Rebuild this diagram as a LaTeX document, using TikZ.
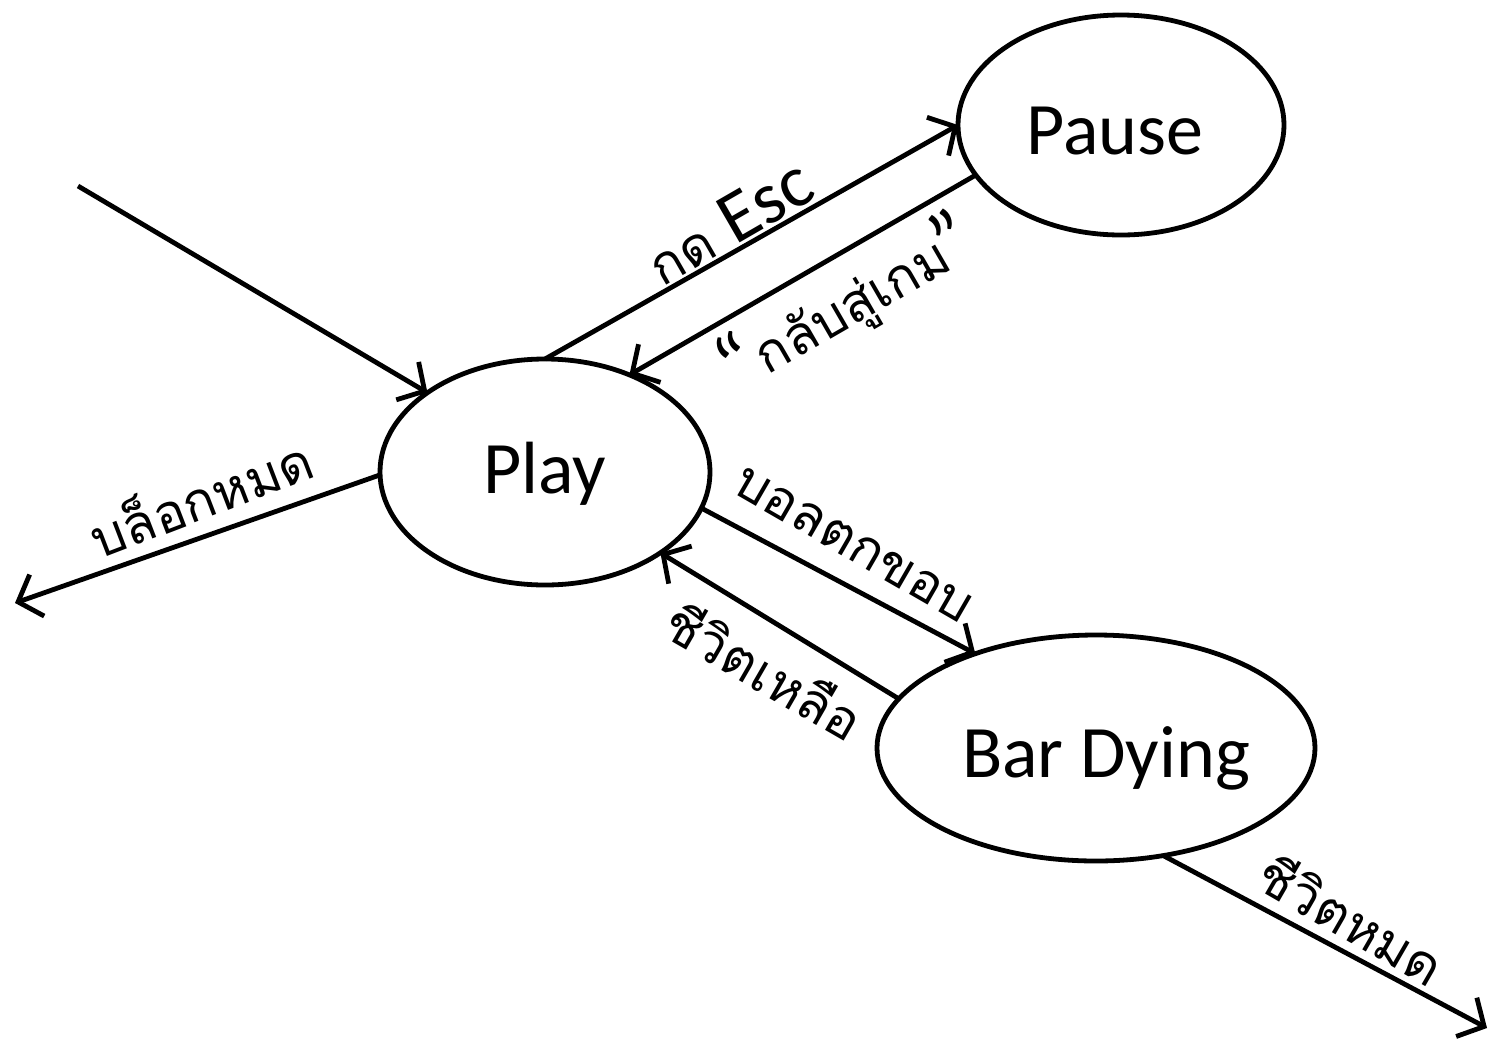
\documentclass[tikz,border=0pt]{standalone}
\usepackage{fontspec}
\setmainfont{Carlito}
\newfontfamily\thai[Script=Thai]{Loma}
\usetikzlibrary{shapes.geometric,arrows.meta}
\tikzset{
  state/.style={ellipse, draw, line width=2.4pt, inner sep=0pt, outer sep=0pt},
  stxt/.style={font=\fontsize{37}{40}\selectfont, inner sep=0pt},
  edge/.style={line width=2.4pt, -{Straight Barb[length=10pt,width=22pt,line width=2.4pt]}},
  lbl/.style={inner sep=0pt, font=\thai\fontsize{26.5}{30}\selectfont}
}
\newcommand{\bigq}[1]{{\rmfamily\fontsize{40}{40}\selectfont #1}}
\begin{document}
\begin{tikzpicture}[x=0.5pt,y=-0.5pt]
\useasboundingbox (0,0) rectangle (1490,1040);
\node[state, minimum width=165pt, minimum height=113pt,
      label={[stxt, name=playtxt, yshift=-1pt]center:Play}] (play) at (545,472) {};
\node[state, minimum width=163pt, minimum height=110pt,
      label={[stxt, name=pausetxt, xshift=-3pt, yshift=-3pt]center:Pause}] (pause) at (1121,125) {};
\node[state, minimum width=219pt, minimum height=113pt,
      label={[stxt, name=bartxt, xshift=5pt, yshift=-5pt]center:Bar Dying}] (bar) at (1096,748) {};
\coordinate (init) at (78,186);
\coordinate (outl) at (15,603);
\coordinate (outr) at (1487,1028);
\draw[edge] (init) -- (play.146);
\draw[edge] (play.north) -- (pause.west);
\draw[edge] (pause.199) -- (play.49);
\draw[edge] (play.181) -- (outl);
\draw[edge] (play.-13) -- (bar.142);
\draw[edge] (bar.166) -- (play.-35);
\draw[edge] (bar.-58) -- (outr);
\node[lbl, rotate=30] (l1) at (729,222) {กด {\rmfamily\fontsize{37}{40}\selectfont Esc}};
\node[lbl, rotate=30] (l2) at (846,305) {\bigq{“}\hspace{2pt}กลับสู่เกม\hspace{-3pt}\bigq{”}};
\node[lbl, rotate=21] (l3) at (200,495) {บล็อกหมด};
\node[lbl, rotate=-30] (l4) at (853,545) {บอลตกขอบ};
\node[lbl, rotate=-30] (l5) at (765,670) {ชีวิตเหลือ};
\node[lbl, rotate=-30] (l6) at (1352,918) {ชีวิตหมด};
\end{tikzpicture}
\end{document}
